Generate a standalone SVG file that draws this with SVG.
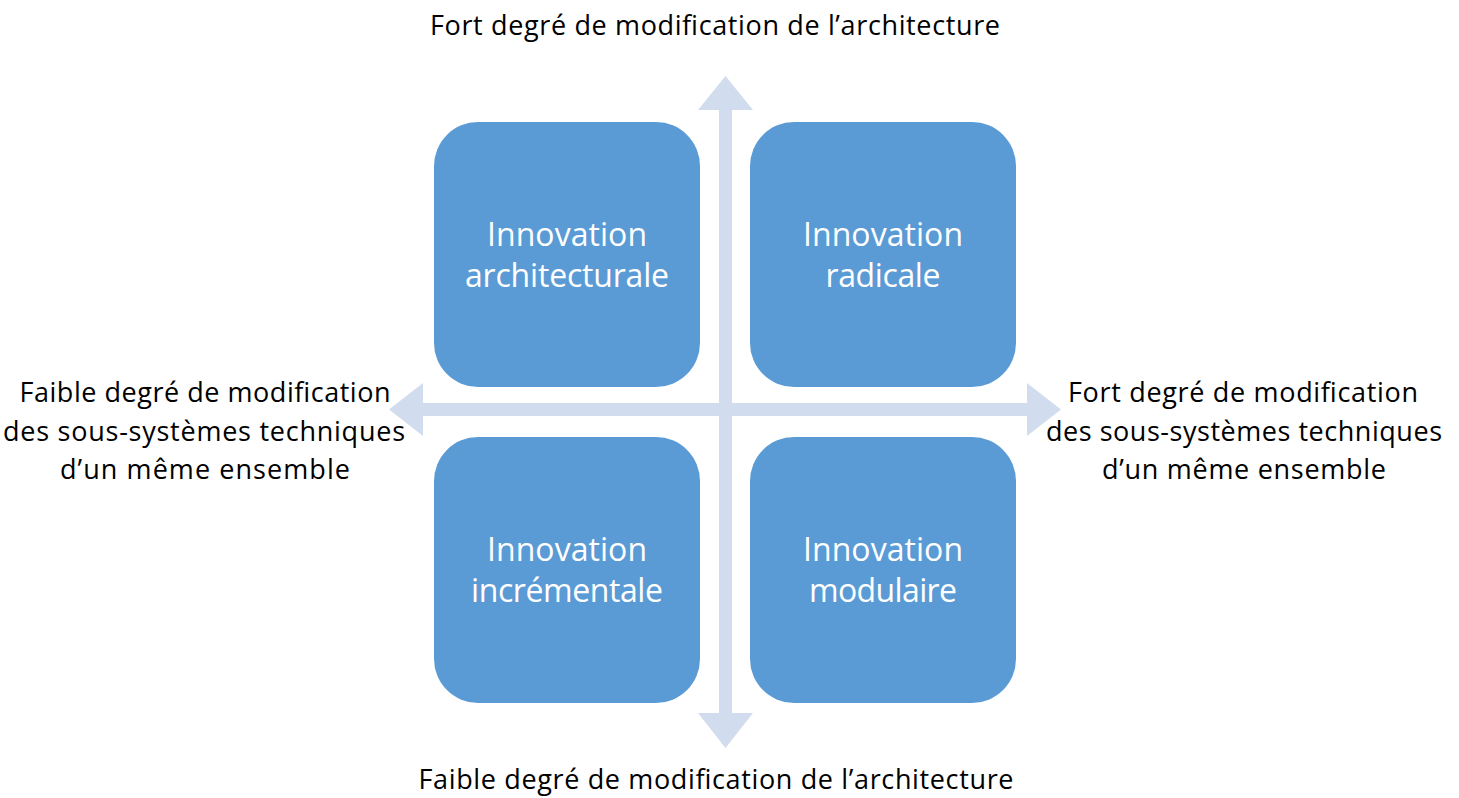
<svg xmlns="http://www.w3.org/2000/svg" width="1459" height="798" viewBox="0 0 1459 798">
  <style>
    .box { fill: #5B9BD5; }
    .arrow { fill: #D1DDEE; }
    .lbl { font-family: "Open Sans", "Noto Sans", sans-serif; font-size: 27px; fill: #000000; text-anchor: middle; }
    .btxt { font-family: "Open Sans", "Noto Sans", sans-serif; font-size: 32px; fill: #FFFFFF; text-anchor: middle; }
  </style>
  <rect width="1459" height="798" fill="#FFFFFF"/>
  <g id="connectors">
    <polygon class="arrow" points="719,110 698,110 725.5,76 753,110 732,110 732,713 753,713 725.5,748 698,713 719,713"/>
    <polygon class="arrow" points="423,403 423,383 389,409.5 423,436 423,416 1027,416 1027,436 1061,409.5 1027,383 1027,403"/>
  </g>
  <g id="node-architecturale">
    <rect class="box" x="434" y="122" width="266" height="265" rx="44" ry="44"/>
    <text class="btxt" x="567" y="246" textLength="160">Innovation</text>
    <text class="btxt" x="567" y="287" textLength="204">architecturale</text>
  </g>
  <g id="node-radicale">
    <rect class="box" x="750" y="122" width="266" height="265" rx="44" ry="44"/>
    <text class="btxt" x="883" y="246" textLength="160">Innovation</text>
    <text class="btxt" x="883" y="287" textLength="115">radicale</text>
  </g>
  <g id="node-incrementale">
    <rect class="box" x="434" y="437" width="266" height="266" rx="44" ry="44"/>
    <text class="btxt" x="567" y="561" textLength="160">Innovation</text>
    <text class="btxt" x="567" y="602" textLength="192">incrémentale</text>
  </g>
  <g id="node-modulaire">
    <rect class="box" x="750" y="437" width="266" height="266" rx="44" ry="44"/>
    <text class="btxt" x="883" y="561" textLength="160">Innovation</text>
    <text class="btxt" x="883" y="602" textLength="148">modulaire</text>
  </g>
  <g id="label-top">
    <text class="lbl" x="715" y="35" textLength="570">Fort degré de modification de l’architecture</text>
  </g>
  <g id="label-bottom">
    <text class="lbl" x="716" y="789" textLength="595">Faible degré de modification de l’architecture</text>
  </g>
  <g id="label-left">
    <text class="lbl" x="205" y="402" textLength="371">Faible degré de modification</text>
    <text class="lbl" x="204" y="441" textLength="402">des sous-systèmes techniques</text>
    <text class="lbl" x="205" y="479" textLength="290">d’un même ensemble</text>
  </g>
  <g id="label-right">
    <text class="lbl" x="1243" y="402" textLength="350">Fort degré de modification</text>
    <text class="lbl" x="1244" y="441" textLength="396">des sous-systèmes techniques</text>
    <text class="lbl" x="1244" y="479" textLength="284">d’un même ensemble</text>
  </g>
</svg>
